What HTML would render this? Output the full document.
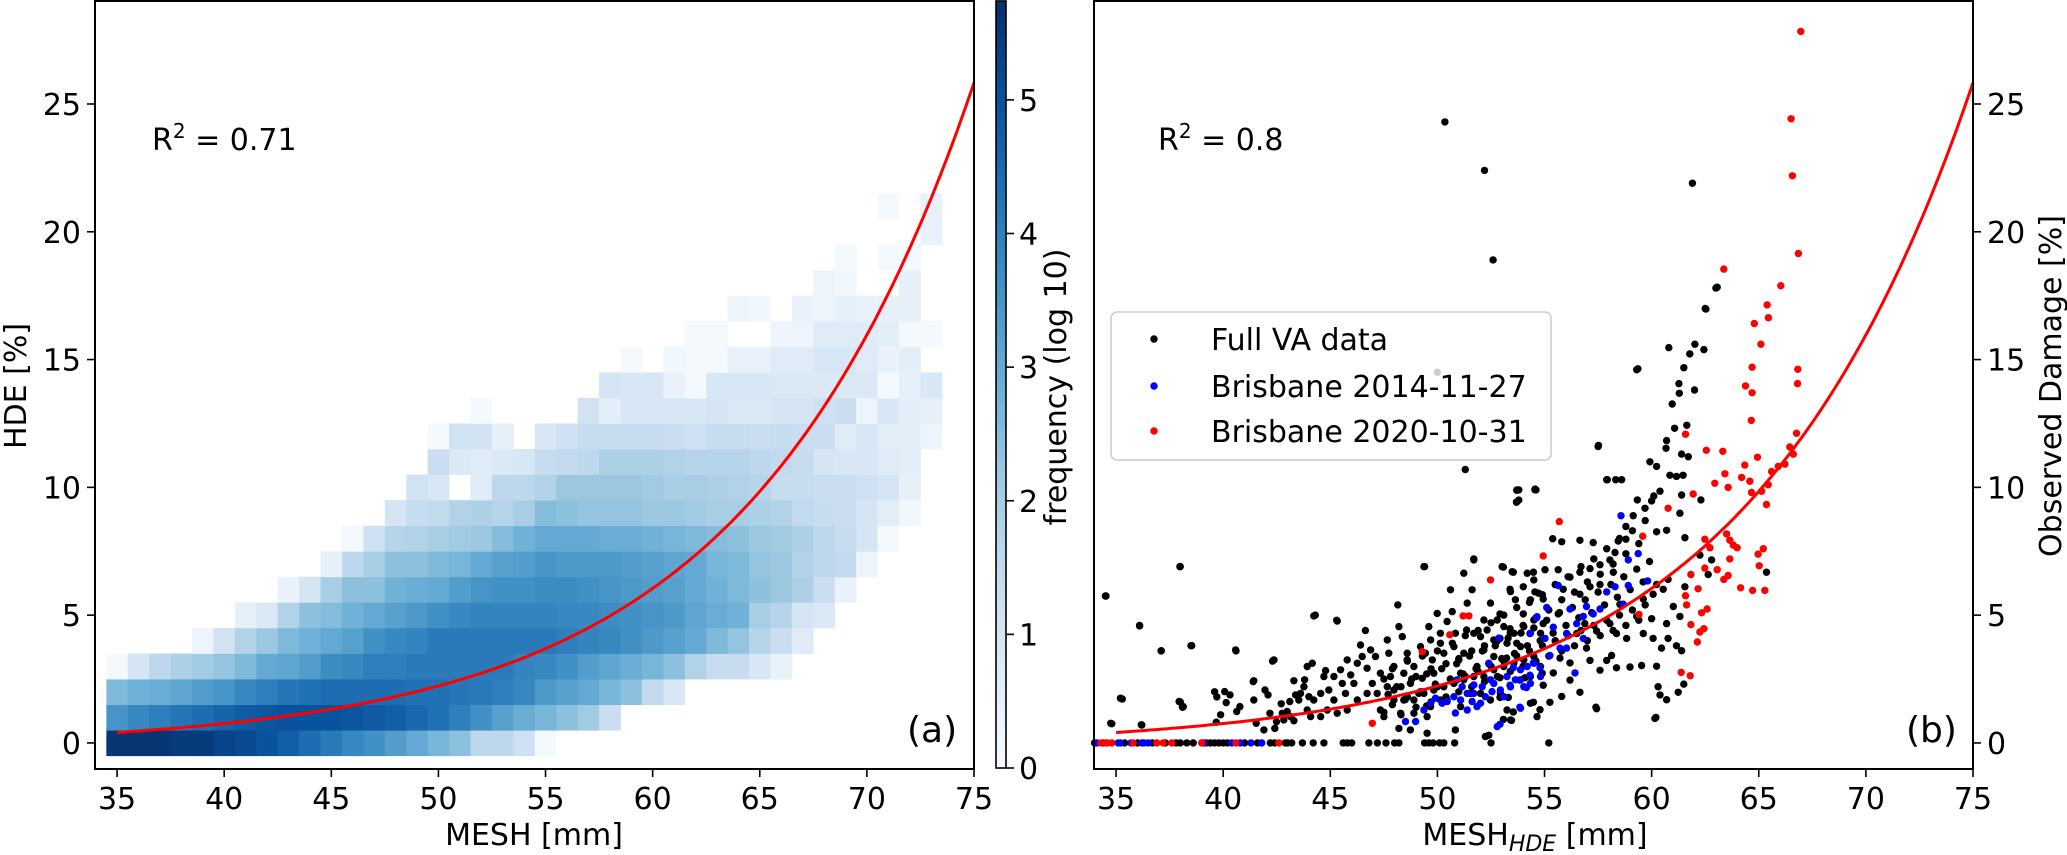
<!DOCTYPE html>
<html><head><meta charset="utf-8"><style>
html,body{margin:0;padding:0;background:#fff;}
svg{display:block;font-family:"DejaVu Sans","Liberation Sans",sans-serif;}
</style></head><body>
<svg id="fig" width="2067" height="855" viewBox="0 0 2067 855" xmlns="http://www.w3.org/2000/svg">
<g id="heat"></g>
<g id="fitL"></g>
<g id="ptsB"></g>
<g id="fitR"></g>
<g id="axes"></g>
</svg>
<script>
// ---------- data ----------
const heatXStart = 35; // first column MESH value
const heatRows = [
[5.6,5.6,5.6,5.5,5.5,5.3,5.2,5.0,4.7,4.4,4.1,3.8,3.6,3.3,3.0,2.7,2.4,1.6,1.6,1.2,0.1],
[3.5,3.8,4.0,4.2,4.4,4.6,4.8,4.9,5.0,5.0,5.0,4.9,4.8,4.7,4.5,4.3,4.0,3.6,3.2,2.9,2.7,2.4,2.1,1.3],
[2.6,2.8,2.9,3.1,3.3,3.5,3.8,4.0,4.2,4.3,4.4,4.4,4.4,4.4,4.3,4.3,4.2,4.1,4.0,3.8,3.4,3.2,3.0,2.7,2.4,1.5,0.9],
[0.1,1.0,1.6,1.9,2.1,2.3,2.6,3.0,3.1,3.3,3.7,3.8,4.0,4.0,4.1,4.1,4.1,4.1,4.1,3.9,3.8,3.6,3.3,3.1,2.9,2.7,2.4,1.8,1.4,1.4,0.9,0.4],
[0,0,0,0,0.3,1.1,1.8,2.2,2.6,2.8,3.0,3.2,3.6,3.8,3.9,4.1,4.1,4.1,4.1,4.1,4.1,4.0,3.9,3.8,3.6,3.4,3.2,3.0,2.6,2.3,1.7,1.3,0.7],
[0,0,0,0,0,0,0.5,0.8,1.8,2.4,2.5,2.8,3.0,3.2,3.4,3.6,3.8,3.9,3.9,3.9,3.9,3.8,3.8,3.7,3.6,3.5,3.4,3.1,2.9,2.8,2.0,1.7,1.0,0.8],
[0,0,0,0,0,0,0,0,0.4,1.0,2.0,2.4,2.4,2.8,2.9,3.0,3.3,3.5,3.6,3.6,3.7,3.7,3.6,3.5,3.4,3.3,3.2,3.0,2.8,2.6,2.4,2.2,1.9,1.3,0.4],
[0,0,0,0,0,0,0,0,0,0,0.5,1.6,2.0,2.4,2.4,2.6,2.7,3.0,3.2,3.3,3.5,3.4,3.4,3.4,3.3,3.2,3.1,3.0,2.7,2.6,2.3,2.2,1.8,1.6,1.5,0.3],
[0,0,0,0,0,0,0,0,0,0,0,0.1,1.2,1.7,1.8,2.0,2.1,2.2,2.5,2.8,3.0,3.0,3.0,2.9,2.9,2.8,2.7,2.6,2.5,2.4,2.2,2.1,1.9,1.6,1.4,1.0,0.1],
[0,0,0,0,0,0,0,0,0,0,0,0,0,1.0,1.4,1.5,1.8,1.9,1.7,2.0,2.5,2.4,2.3,2.3,2.3,2.2,2.2,2.1,2.0,2.0,1.9,1.8,1.5,1.4,1.3,1.0,0.6,0.2],
[0,0,0,0,0,0,0,0,0,0,0,0,0,0,1.1,0.9,0,0.7,1.6,1.6,1.8,2.2,2.2,2.2,2.2,2.1,2.0,2.0,1.9,1.8,1.7,1.4,1.4,1.3,1.3,1.2,1.0,0.5],
[0,0,0,0,0,0,0,0,0,0,0,0,0,0,0,1.3,0.8,0.7,0.8,0.9,1.4,1.5,1.6,1.9,1.9,1.9,1.8,1.7,1.7,1.7,1.6,1.5,1.4,1.0,0.9,0.9,0.7,0.6],
[0,0,0,0,0,0,0,0,0,0,0,0,0,0,0,0.1,1.1,1.1,0.5,0,0.9,1.2,1.4,1.4,1.4,1.4,1.3,1.2,1.4,1.4,1.3,1.4,1.3,1.3,0.7,0.9,0.6,0.6,0.3],
[0,0,0,0,0,0,0,0,0,0,0,0,0,0,0,0,0,0.1,0,0,0,0,1.1,0.6,0.9,0.9,0.9,0.9,1.0,0.8,0.8,1.0,1.0,1.2,1.3,0.3,0.9,0.6,0.5],
[0,0,0,0,0,0,0,0,0,0,0,0,0,0,0,0,0,0,0,0,0,0,0,1.0,0.9,0.9,0.4,0.1,0.9,0.9,0.9,0.8,0.8,0.8,0.8,0.8,0.1,0.5,0.9],
[0,0,0,0,0,0,0,0,0,0,0,0,0,0,0,0,0,0,0,0,0,0,0,0,0.1,0,0.2,0.1,0.1,0.4,0.4,0.7,0.7,0.9,0.9,0.7,0.4,0.6],
[0,0,0,0,0,0,0,0,0,0,0,0,0,0,0,0,0,0,0,0,0,0,0,0,0,0,0,0.1,0.1,0,0,0.3,0.3,0.7,0.7,0.7,0.6,0.1,0.1],
[0,0,0,0,0,0,0,0,0,0,0,0,0,0,0,0,0,0,0,0,0,0,0,0,0,0,0,0,0,0.3,0.2,0,0.4,0.3,0.5,0.4,0.5,0.5],
[0,0,0,0,0,0,0,0,0,0,0,0,0,0,0,0,0,0,0,0,0,0,0,0,0,0,0,0,0,0,0,0,0,0.3,0.2,0,0,0.5],
[0,0,0,0,0,0,0,0,0,0,0,0,0,0,0,0,0,0,0,0,0,0,0,0,0,0,0,0,0,0,0,0,0,0,0.1,0,0.1,0.1],
[0,0,0,0,0,0,0,0,0,0,0,0,0,0,0,0,0,0,0,0,0,0,0,0,0,0,0,0,0,0,0,0,0,0,0,0,0,0,0.4],
[0,0,0,0,0,0,0,0,0,0,0,0,0,0,0,0,0,0,0,0,0,0,0,0,0,0,0,0,0,0,0,0,0,0,0,0,0.1,0,0.4]
];
const fitParams = [0.57, 0.0955, -0.16]; // y = a*exp(b*(x-35)) + c
const fitRange = [35, 75];
const xTicks = [35,40,45,50,55,60,65,70,75];
const yTicks = [0,5,10,15,20,25];
const cbTicks = [0,1,2,3,4,5];

const blackX = [34.0,34.4,35.4,36.0,36.7,37.3,37.8,38.0,38.3,38.6,39.2,39.4,39.6,39.8,40.0,40.2,41.0,41.6,42.2,42.4,42.9,43.0,43.2,43.7,44.2,44.7,45.6,45.8,46.0,46.8,47.2,47.6,48.0,48.2,49.4,49.6,49.8,50.1,50.3,50.8,52.5,55.2,
50.35,52.2,61.9,52.6,63.0,62.5,50.0,59.3,34.5,38.0,36.1,37.1,38.5,40.6,42.3,44.3,45.3,35.2,34.8,36.2,38.0,38.1,39.6,39.7,41.4,51.3,57.5,53.8,54.6,53.8,57.9,58.6,49.4,51.7,49.5,57.4,60.2,60.3,61.5,52.4,
63.06,62.53,60.8,62.02,61.78,62.44,59.36,61.5,61.27,61.29,62.0,60.96,61.07,61.64,60.7,60.67,57.52,59.92,60.23,61.4,61.71,60.85,61.16,61.47,60.39,60.1,61.4,62.3,57.93,58.32,60.0,59.69,59.33,59.14,61.32,58.8,58.44,58.8,60.23,60.7,61.55,55.38,55.8,56.65,57.27,58.05,58.29,62.25,62.8,65.36,62.64,60.23,60.77,60.54,61.55,53.08,53.54,54.48,55.02,55.64,56.19,56.65,57.12,57.59,53.39,54.01,54.55,54.94,55.87,56.65,57.12,57.59,58.21,58.52,59.61,60.07,59.3,60.0,60.7,61.01,61.32,58.05,57.43,58.36,58.83,59.61,60.07,60.77,60.46,61.16,61.4,58.13,57.9,57.59,58.36,58.99,59.53,60.23,60.39,60.7,61.24,60.15,57.43,56.65,56.19,55.8,55.25,54.79,54.48,53.54,53.08,53.46,53.7,54.55,53.7,56.88,56.5,55.72,56.96,57.12,56.19,55.41,54.94,54.09,53.23,53.7,54.32,54.01,53.39,54.94,55.64,52.92,52.92,52.92,53.31,52.92,
34.75,35.29,36.18,37.11,37.98,38.53,36.1,34.53,37.94,38.14,39.68,39.88,40.07,40.32,40.14,40.58,40.63,40.78,41.43,41.43,41.54,41.9,41.95,42.09,42.18,42.37,42.41,42.49,42.71,42.76,42.99,43.11,43.3,43.38,43.3,43.8,43.77,43.92,44.16,44.0,43.53,44.08,44.23,44.7,44.78,44.93,45.17,45.32,45.48,45.56,45.71,45.95,46.26,46.41,46.49,46.64,46.72,46.88,47.11,46.96,47.19,47.34,47.66,47.73,47.81,47.97,48.15,48.2,48.36,48.43,48.59,48.74,48.9,49.13,49.29,49.37,49.44,49.6,49.76,49.83,49.99,50.14,50.3,50.45,50.61,50.69,50.84,51.0,51.08,51.23,51.36,51.39,51.62,51.7,51.85,52.01,52.17,52.32,52.48,52.63,52.79,53.02,53.25,53.41,53.49,53.64,53.72,53.69,53.88,54.19,54.34,54.5,54.56,54.73,54.89,52.24,49.52,50.45,47.5,48.2,48.74,49.52,50.84,54.65,53.41,54.34,53.25,
47.97,48.43,48.9,49.37,49.83,50.3,50.77,51.23,51.7,52.17,52.63,53.1,53.57,54.03,54.5,48.28,48.9,49.68,50.14,51.08,51.54,52.01,52.48,52.94,53.41,53.88,54.34,54.81,47.97,48.59,49.21,49.68,50.14,50.77,51.23,51.7,52.17,52.63,53.1,53.57,54.03,54.5,54.81,47.66,47.34,46.72,46.26,45.79,45.32,44.86,44.55,45.79,46.1,45.17,44.55,44.23,43.92,43.61,43.15,42.83,
47.5,47.9,48.3,48.6,49.0,49.3,49.7,50.0,50.4,50.7,51.0,51.3,51.6,51.9,52.2,52.5,52.8,53.1,53.4,53.7,54.0,54.3,54.6,54.9,55.2,55.5,55.8,56.1,56.4,56.7,57.0,57.3,57.6,57.9,58.2,58.5,58.8,59.1,59.4,59.7,
47.5,47.9,48.3,48.6,49.0,49.3,49.7,50.0,50.4,50.7,51.0,51.3,51.6,51.9,52.2,52.5,52.8,53.1,53.4,53.7,54.0,54.3,54.6,54.9,55.2,55.5,55.8,56.1,56.4,56.7,57.0,57.3,57.6,57.9,58.2,58.5,58.8,59.1,59.4,59.7,
47.7,48.1,48.5,48.8,49.2,49.5,49.9,50.2,50.6,50.9,51.2,51.5,51.8,52.1,52.4,52.7,53.0,53.3,53.6,53.9,54.2,54.5,54.8,55.1,55.4,55.7,56.0,56.3,56.6,56.9,57.2,57.5,57.8,58.1,58.4,58.7,59.0,59.3,59.6,59.9];
const blackY = [0,0,0,0,0,0,0,0,0,0,0,0,0,0,0,0,0,0,0,0,0,0,0,0,0,0,0,0,0,0,0,0,0,0,0,0,0,0,0,0,0,0,
24.3,22.4,21.9,18.9,17.8,17.0,14.5,14.6,5.75,6.9,4.6,3.6,3.8,3.6,3.2,5.0,4.8,1.75,0.75,0.7,1.6,1.4,2.0,1.8,2.4,10.7,11.6,9.9,9.9,9.5,10.3,10.3,6.9,7.2,1.45,1.4,1.0,2.2,2.3,0.3,
17.83,16.98,15.47,15.6,15.22,15.39,14.64,14.68,14.06,13.68,13.81,13.26,12.31,12.43,11.83,11.53,11.64,11.0,10.82,11.3,11.2,10.47,10.43,10.47,9.85,9.66,9.7,9.51,10.3,10.3,9.47,9.18,9.51,8.89,8.99,8.47,7.9,7.97,8.26,8.32,8.03,7.99,7.87,7.93,7.84,7.16,7.45,7.35,7.16,6.68,6.59,6.2,6.4,6.01,6.11,6.88,6.68,6.68,6.78,6.78,6.49,6.68,6.82,6.97,6.01,6.11,5.91,5.63,6.01,5.82,6.11,6.2,6.68,5.43,5.63,5.82,4.95,4.86,4.67,5.34,4.95,4.67,4.38,4.28,4.09,4.28,4.09,4.09,3.71,3.8,3.61,3.42,3.23,2.84,2.94,2.97,3.03,3.0,1.88,1.69,1.98,0.96,1.34,1.98,2.46,1.82,1.59,1.3,1.59,1.21,0.92,0.88,9.89,9.91,9.43,4.67,4.28,3.32,3.71,3.23,3.13,2.74,2.26,2.55,3.32,3.9,4.28,5.05,4.47,4.67,5.05,5.05,4.09,2.55,1.78,1.78,
0.77,1.72,0.71,3.61,6.9,3.81,4.58,5.75,1.62,1.42,0.81,1.1,2.01,1.88,1.58,3.64,1.23,1.42,2.43,1.68,0.77,0.51,2.07,1.88,1.16,3.25,0.57,0.83,1.53,1.16,1.23,1.62,2.43,1.88,0.87,2.47,2.2,2.99,3.12,1.81,1.68,1.03,4.97,2.6,2.83,2.07,1.68,4.77,2.86,2.33,1.94,2.66,3.12,3.83,3.38,4.4,2.92,3.64,3.38,2.33,1.94,1.29,4.03,3.51,2.6,2.07,5.4,4.55,4.16,2.73,3.51,2.33,2.99,1.94,2.53,6.9,3.51,4.55,3.25,2.73,5.07,3.9,3.51,4.75,5.99,5.14,4.29,3.25,2.73,6.64,4.42,5.47,5.99,7.16,2.99,4.16,3.64,4.42,5.47,3.38,4.81,6.9,3.9,5.92,6.7,5.6,9.9,9.42,3.77,6.64,5.6,6.38,9.93,5.86,2.73,0.25,0.38,1.68,1.03,0.57,0.51,1.03,0.51,1.03,0.9,1.55,1.29,
1.68,1.68,1.68,1.94,2.07,2.2,2.33,2.47,2.6,2.6,2.86,2.99,3.12,3.25,3.38,1.16,1.16,1.42,1.68,1.42,1.94,1.94,1.68,1.94,2.2,2.47,2.6,2.99,2.99,3.25,3.77,4.03,4.29,3.77,3.51,4.29,4.81,4.03,4.55,4.29,4.55,4.81,4.29,2.2,2.73,1.94,1.68,1.29,1.16,1.29,1.03,3.25,2.33,2.6,1.94,1.68,1.29,1.94,1.03,0.9,
2.5,2.9,2.2,3.2,2.6,3.4,2.9,3.6,3.1,3.9,3.3,4.2,3.6,4.4,3.8,4.7,4.0,5.0,4.3,5.3,4.6,5.5,4.9,5.8,5.2,6.2,5.6,6.5,5.9,6.9,6.3,7.2,6.6,7.6,7.0,8.0,7.4,8.3,7.8,8.7,
1.2,1.5,1.1,1.8,1.4,2.0,1.6,2.2,1.8,2.4,2.0,2.6,2.2,2.8,2.4,3.0,2.6,3.2,2.8,3.4,3.0,3.6,3.2,3.8,3.4,4.0,3.6,4.2,3.8,4.4,4.0,4.6,4.2,4.8,4.4,5.0,4.6,5.2,4.8,5.4,
1.9,2.2,1.7,2.5,2.0,2.7,2.3,2.9,2.5,3.1,2.7,3.4,2.9,3.6,3.1,3.8,3.3,4.1,3.5,4.3,3.8,4.5,4.0,4.8,4.3,5.1,4.6,5.3,4.9,5.6,5.1,5.9,5.4,6.2,5.7,6.5,6.0,6.8,6.3,7.1];

const blueX = [34.1,35.1,35.2,35.7,36.2,36.3,36.5,39.0,39.1,40.4,40.8,41.3,41.8,
48.51,48.98,49.37,49.68,49.91,50.22,50.45,50.77,50.84,50.92,51.15,51.39,51.62,51.7,51.85,52.09,52.24,52.48,52.55,52.79,52.87,52.4,52.94,53.25,53.41,53.64,53.88,54.03,54.19,54.34,54.5,54.65,54.81,54.34,53.88,53.1,52.01,51.39,51.08,51.7,52.63,
58.57,59.37,58.91,59.81,58.29,58.91,57.9,58.67,57.59,56.96,56.81,56.5,56.19,55.64,55.1,54.63,55.41,56.03,55.72,55.25,54.79,54.32,53.85,53.39,54.48,55.02,56.42,53.85,52.92,54.16,53.54,56.03,56.81,57.27];
const blueY = [0,0,0,0,0,0,0,0,0,0,0,0,0,
0.84,0.84,1.29,1.55,1.75,1.55,1.62,1.81,1.17,2.47,2.2,1.29,1.62,2.27,1.42,2.2,1.81,2.47,2.01,0.64,4.1,3.12,2.07,2.6,2.2,2.47,1.36,2.2,2.99,4.29,3.12,4.94,2.6,2.33,2.86,1.81,1.55,1.94,1.68,1.94,2.33,
8.89,7.41,7.16,6.34,6.11,6.16,5.91,5.43,5.24,5.34,4.95,4.67,5.24,6.16,5.3,4.9,4.53,4.28,3.71,3.42,2.94,2.65,2.46,2.26,3.13,4.09,2.74,1.4,0.73,2.17,2.94,3.71,4.09,5.05];

const redX = [34.3,34.5,34.6,34.8,35.8,36.9,37.2,37.6,39.0,40.6,42.6,
46.96,49.29,50.58,51.2,51.47,52.48,
66.96,66.51,66.57,66.85,63.37,66.03,65.39,65.45,64.79,65.10,64.69,66.82,66.81,64.38,64.69,64.65,61.58,62.55,63.32,64.94,66.76,66.45,66.61,66.22,65.91,65.6,64.35,63.42,62.95,63.57,64.2,64.58,65.44,65.13,64.66,61.94,65.36,60.77,55.69,59.58,54.94,62.48,62.72,63.5,63.65,63.81,63.99,63.65,64.97,65.21,65.02,62.48,63.06,61.83,63.57,63.37,64.15,64.71,65.28,62.17,61.58,61.63,62.59,62.33,59.41,61.83,62.44,62.25,62.13,61.38,61.8];
const redY = [0,0,0,0,0,0,0,0,0,0,0,
0.77,3.57,4.23,4.97,4.97,6.38,
27.84,24.42,22.19,19.15,18.54,17.89,17.14,16.64,16.41,15.6,14.7,14.62,14.06,13.97,13.7,12.62,12.08,11.45,11.41,11.18,12.12,11.58,11.3,10.91,10.82,10.62,10.87,10.53,10.16,10.0,10.39,10.24,10.1,9.85,9.8,9.74,9.33,9.18,8.66,8.09,7.32,7.97,7.64,8.18,7.93,7.74,7.64,7.2,7.39,7.6,6.93,6.84,6.78,6.59,6.55,6.4,6.07,5.97,5.97,6.03,5.76,5.4,5.24,5.09,5.03,4.63,4.47,4.34,3.95,2.76,2.63];

// ---------- geometry ----------
const NS = "http://www.w3.org/2000/svg";
const AX = {L:{x0:95,x1:974}, R:{x0:1094,x1:1973}, y0:1, y1:769};
const XMIN=33.97, XMAX=75.0, YMIN=-1.02, YMAX=29.03;
function sx(panel, v){ const p=AX[panel]; return p.x0 + (v-XMIN)/(XMAX-XMIN)*(p.x1-p.x0); }
function sy(v){ return AX.y1 - (v-YMIN)/(YMAX-YMIN)*(AX.y1-AX.y0); }
const CB = {x0:996, x1:1006, y0:1, y1:768, vmax:5.74};
function cby(v){ return CB.y1 - v/CB.vmax*(CB.y1-CB.y0); }
const stops=[[247,251,255],[222,235,247],[198,219,239],[158,202,225],[107,174,214],[66,146,198],[33,113,181],[8,81,156],[8,48,107]];
function blues(v){
  let t=Math.max(0,Math.min(1,v/CB.vmax))*(stops.length-1);
  let i=Math.min(stops.length-2,Math.floor(t)), f=t-i;
  const c=stops[i].map((a,k)=>Math.round(a+(stops[i+1][k]-a)*f));
  return `rgb(${c[0]},${c[1]},${c[2]})`;
}
function el(tag, attrs, parent){
  const e=document.createElementNS(NS,tag);
  for(const k in attrs) e.setAttribute(k,attrs[k]);
  parent.appendChild(e); return e;
}
const fig=document.getElementById('fig');

// heatmap
const heat=document.getElementById('heat');
heatRows.forEach((row,yi)=>{
  row.forEach((v,xi)=>{
    if(!(v>0)) return;
    const X=heatXStart+xi;
    const x0=sx('L',X-0.5), x1=sx('L',X+0.5), y0=sy(yi+0.5), y1=sy(yi-0.5);
    const r=el('rect',{x:x0,y:y0,width:x1-x0+0.4,height:y1-y0+0.4,fill:blues(v)},heat);
    
    
  });
});

// fit curves
function fitPath(panel){
  let d='';
  for(let i=0;i<=200;i++){
    const x=fitRange[0]+(fitRange[1]-fitRange[0])*i/200;
    const y=fitParams[0]*Math.exp(fitParams[1]*(x-35))+fitParams[2];
    d+=(i?'L':'M')+sx(panel,x).toFixed(1)+','+sy(y).toFixed(1);
  }
  return d;
}
const fl=el('path',{d:fitPath('L'),fill:'none',stroke:'#ff0000','stroke-width':3},document.getElementById('fitL'));



// scatter
const pts=document.getElementById('ptsB');
function scatter(xs,ys,color,name){
  const g=el('g',{},pts);
  
  
  xs.forEach((x,i)=>{
    const c=el('circle',{cx:sx('R',x).toFixed(1),cy:sy(ys[i]).toFixed(1),r:3.7,fill:color},g);
    
    
  });
}
scatter(blackX,blackY,'#000','series-full-va');
scatter(blueX,blueY,'#0000ff','series-brisbane-2014');
scatter(redX,redY,'#ff0000','series-brisbane-2020');
const fr=el('path',{d:fitPath('R'),fill:'none',stroke:'#ff0000','stroke-width':3},document.getElementById('fitR'));



// axes
const axes=document.getElementById('axes');
function txt(s,x,y,opts,name){
  const t=el('text',Object.assign({x:x,y:y,'font-size':30,fill:'#000'},opts||{}),axes);
  t.textContent=s;
  
  
  return t;
}
['L','R'].forEach(p=>{
  const a=AX[p];
  const fr=el('rect',{x:a.x0,y:AX.y0,width:a.x1-a.x0,height:AX.y1-AX.y0,fill:'none',stroke:'#000','stroke-width':2},axes);
  
  
  xTicks.forEach(v=>{
    const x=sx(p,v);
    el('line',{x1:x,x2:x,y1:AX.y1,y2:AX.y1+8,stroke:'#000','stroke-width':1.6},axes);
    txt(String(v),x,809,{'text-anchor':'middle'},'x-tick-label');
  });
  yTicks.forEach(v=>{
    const y=sy(v);
    if(p==='L'){
      el('line',{x1:a.x0,x2:a.x0-8,y1:y,y2:y,stroke:'#000','stroke-width':1.6},axes);
      txt(String(v),81,y+11,{'text-anchor':'end'},'y-tick-label');
    } else {
      el('line',{x1:a.x1,x2:a.x1+8,y1:y,y2:y,stroke:'#000','stroke-width':1.6},axes);
      txt(String(v),1987,y+11,{'text-anchor':'start'},'y-right-tick-label');
    }
  });
});
// colorbar
const defs=el('defs',{},fig);
const lg=el('linearGradient',{id:'cbg',x1:0,y1:1,x2:0,y2:0},defs);
for(let i=0;i<=8;i++){ el('stop',{offset:i/8,'stop-color':`rgb(${stops[i].join(',')})`},lg); }
const cbr=el('rect',{x:CB.x0,y:CB.y0,width:CB.x1-CB.x0,height:CB.y1-CB.y0,fill:'url(#cbg)',stroke:'#000','stroke-width':1.6},axes);


cbTicks.forEach(v=>{
  const y=cby(v);
  el('line',{x1:CB.x1,x2:CB.x1+8,y1:y,y2:y,stroke:'#000','stroke-width':1.6},axes);
  txt(String(v),1019,y+11,{'text-anchor':'start'},'colorbar-tick-label');
});
// labels
txt('MESH [mm]',534,845,{'text-anchor':'middle'},'x-axis-title-a');
const xr=txt('',1535,845,{'text-anchor':'middle'},'x-axis-title-b');
xr.innerHTML='MESH<tspan font-size="22" font-style="italic" dy="6">HDE</tspan><tspan dy="-6"> [mm]</tspan>';
txt('HDE [%]',0,0,{'text-anchor':'middle',transform:'translate(26,386) rotate(-90)'},'y-axis-title');
txt('frequency (log 10)',0,0,{'text-anchor':'middle',transform:'translate(1066,387) rotate(-90)'},'colorbar-title');
txt('Observed Damage [%]',0,0,{'text-anchor':'middle',transform:'translate(2061,386) rotate(-90)'},'y-right-axis-title');
const r1=txt('',152,150,{},'r-squared-a'); r1.innerHTML='R<tspan font-size="20" dy="-12">2</tspan><tspan dy="12"> = 0.71</tspan>';
const r2=txt('',1158,150,{},'r-squared-b'); r2.innerHTML='R<tspan font-size="20" dy="-12">2</tspan><tspan dy="12"> = 0.8</tspan>';
txt('(a)',907,742,{'font-size':36},'panel-label-a');
txt('(b)',1906,742,{'font-size':36},'panel-label-b');
// legend
const leg=el('g',{},axes);


el('rect',{x:1111,y:312,width:440,height:148,rx:6,fill:'#fff','fill-opacity':0.8,stroke:'#cccccc','stroke-width':1.6},leg);
[['Full VA data','#000',339],['Brisbane 2014-11-27','#0000ff',386],['Brisbane 2020-10-31','#ff0000',431]].forEach(e=>{
  const c=el('circle',{cx:1154,cy:e[2],r:3.7,fill:e[1]},leg);
  
  
  const t=el('text',{x:1211,y:e[2]+11,'font-size':30,fill:'#000'},leg);
  t.textContent=e[0];
  
  
});
</script>
</body></html>
